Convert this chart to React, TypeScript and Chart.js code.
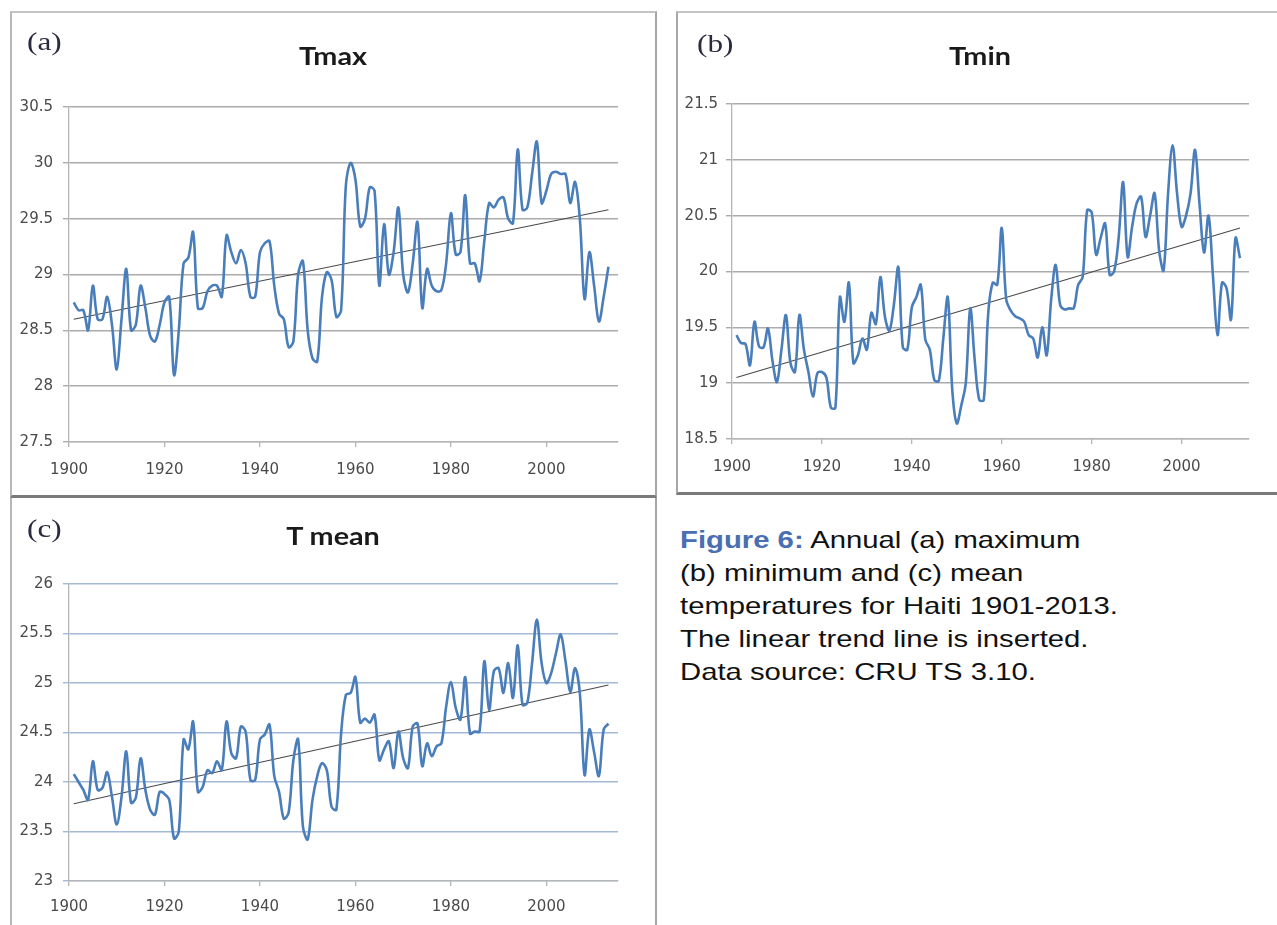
import React, { useEffect, useRef } from "react";
import { Chart, registerables } from "chart.js";

Chart.register(...registerables);

// ---------- data ----------
const FIRST_YEAR = 1901;

const tmaxValues = [
  28.75, 28.68, 28.68, 28.5, 28.9, 28.6, 28.6, 28.8, 28.55, 28.15,
  28.6, 29.05, 28.5, 28.55, 28.9, 28.7, 28.45, 28.4, 28.55, 28.75,
  28.8, 28.1, 28.5, 29.1, 29.15, 29.38, 28.7, 28.7, 28.85, 28.9,
  28.9, 28.8, 29.35, 29.2, 29.1, 29.22, 29.1, 28.8, 28.8, 29.2,
  29.28, 29.3, 28.9, 28.65, 28.6, 28.35, 28.4, 29.0, 29.12, 28.5,
  28.25, 28.22, 28.8, 29.02, 28.95, 28.62, 28.68, 29.8, 30.0, 29.85,
  29.43, 29.5, 29.78, 29.75, 28.9, 29.45, 29.0, 29.2, 29.6, 29.0,
  28.84, 29.1, 29.47, 28.7, 29.05, 28.9, 28.85, 28.86, 29.1, 29.55,
  29.18, 29.2, 29.71, 29.1, 29.1, 28.94, 29.3, 29.64, 29.6, 29.67,
  29.69, 29.5, 29.46, 30.12, 29.58, 29.6, 29.9, 30.19, 29.64, 29.75,
  29.9, 29.92, 29.9, 29.9, 29.64, 29.83, 29.5, 28.78, 29.2, 28.9,
  28.58, 28.8, 29.07,
];

const tminValues = [
  19.43, 19.36, 19.35, 19.16, 19.55, 19.33, 19.32, 19.49, 19.2, 19.01,
  19.3, 19.61, 19.18, 19.1, 19.61, 19.3, 19.1, 18.88, 19.09, 19.1,
  19.05, 18.78, 18.78, 19.77, 19.55, 19.9, 19.18, 19.25, 19.4, 19.3,
  19.63, 19.53, 19.95, 19.6, 19.47, 19.7, 20.04, 19.32, 19.3, 19.68,
  19.77, 19.88, 19.39, 19.3, 19.03, 19.02, 19.4, 19.77, 18.94, 18.64,
  18.8, 19.0, 19.67, 19.2, 18.85, 18.85, 19.63, 19.9, 19.88, 20.39,
  19.75, 19.65, 19.6, 19.58, 19.55, 19.43, 19.4, 19.23, 19.5, 19.25,
  19.75, 20.06, 19.7, 19.66, 19.67, 19.67, 19.88, 19.95, 20.55, 20.53,
  20.15, 20.3, 20.43, 19.97, 20.0, 20.3, 20.8, 20.13, 20.4, 20.61,
  20.67, 20.31, 20.5, 20.7, 20.19, 20.01, 20.7, 21.13, 20.7, 20.4,
  20.5, 20.7, 21.09, 20.6, 20.17, 20.5, 19.95, 19.43, 19.9, 19.85,
  19.57, 20.3, 20.12,
];

const tmeanValues = [
  24.08, 24.0, 23.92, 23.82, 24.21, 23.92, 23.94, 24.1, 23.85, 23.57,
  23.85, 24.31, 23.79, 23.84, 24.24, 23.92, 23.72, 23.67, 23.9, 23.88,
  23.82, 23.43, 23.5, 24.43, 24.33, 24.61, 23.9, 23.95, 24.12, 24.09,
  24.21, 24.12, 24.61, 24.29, 24.24, 24.56, 24.51, 24.02, 24.02, 24.43,
  24.48, 24.58, 24.06, 23.9, 23.63, 23.69, 24.22, 24.43, 23.55, 23.42,
  23.82, 24.06, 24.19, 24.12, 23.75, 23.72, 24.49, 24.88, 24.9, 25.06,
  24.6, 24.64, 24.6, 24.68, 24.22, 24.33, 24.41, 24.14, 24.51, 24.24,
  24.14, 24.56, 24.59, 24.16, 24.39, 24.26, 24.36, 24.39, 24.76, 25.01,
  24.75, 24.63, 25.06, 24.49, 24.51, 24.51, 25.22, 24.73, 25.12, 25.15,
  24.9, 25.2, 24.85, 25.38, 24.78, 24.8, 25.2, 25.64, 25.2, 25.0,
  25.1, 25.3, 25.49, 25.22, 24.91, 25.15, 24.9, 24.07, 24.53, 24.3,
  24.06, 24.53, 24.59,
];

// linear trend values at first and last year
const tmaxTrend = [28.6, 29.58];
const tminTrend = [19.05, 20.39];
const tmeanTrend = [23.78, 24.98];

const xTickValues = [1900, 1920, 1940, 1960, 1980, 2000];
const xRange = [1900, 2015];
const tmaxYTicks = [27.5, 28, 28.5, 29, 29.5, 30, 30.5];
const tminYTicks = [18.5, 19, 19.5, 20, 20.5, 21, 21.5];
const tmeanYTicks = [23, 23.5, 24, 24.5, 25, 25.5, 26];

// ---------- chart ----------
type ChartProps = {
  values: number[];
  trend: number[];
  yTicks: number[];
  width: number;
  height: number;
  padTop: number;
  padRight: number;
  yAxisW: number;
  xAxisH: number;
  gridColor: string;
  yLabelPad: number;
  xLabelPad: number;
};

function TempChart(p: ChartProps) {
  const ref = useRef<HTMLCanvasElement>(null);
  useEffect(() => {
    const canvas = ref.current;
    if (!canvas) return;
    const lastYear = FIRST_YEAR + p.values.length - 1;
    const axisColor = "#b5b5b5";
    const tickFont = { family: "DejaVu Sans", size: 15 };
    const chart = new Chart(canvas, {
      type: "line",
      data: {
        datasets: [
          {
            data: p.values.map((v, i) => ({ x: FIRST_YEAR + i, y: v })),
            borderColor: "#4a7ebb",
            borderWidth: 2.6,
            pointRadius: 0,
            tension: 0.35,
            fill: false,
          },
          {
            data: [
              { x: FIRST_YEAR, y: p.trend[0] },
              { x: lastYear, y: p.trend[1] },
            ],
            borderColor: "#4a4a4a",
            borderWidth: 1.1,
            pointRadius: 0,
            tension: 0,
            fill: false,
          },
        ],
      },
      options: {
        animation: false,
        responsive: false,
        maintainAspectRatio: false,
        devicePixelRatio: 1,
        layout: { padding: { top: p.padTop, right: p.padRight, left: 0, bottom: 0 } },
        plugins: {
          legend: { display: false },
          tooltip: { enabled: false },
          title: { display: false },
        },
        scales: {
          x: {
            type: "linear",
            min: xRange[0],
            max: xRange[1],
            afterFit: (s: any) => {
              s.height = p.xAxisH;
            },
            afterBuildTicks: (s: any) => {
              s.ticks = xTickValues.map((v) => ({ value: v }));
            },
            ticks: {
              callback: (v: any) => String(v),
              padding: p.xLabelPad,
              font: tickFont,
              color: "#4a4a4a",
              maxRotation: 0,
              autoSkip: false,
              includeBounds: false,
            },
            grid: {
              drawOnChartArea: false,
              drawTicks: true,
              tickLength: 5,
              color: axisColor,
              lineWidth: 1.3,
            },
            border: { display: true, color: axisColor, width: 1.3 },
          },
          y: {
            type: "linear",
            min: p.yTicks[0],
            max: p.yTicks[p.yTicks.length - 1],
            afterFit: (s: any) => {
              s.width = p.yAxisW;
            },
            afterBuildTicks: (s: any) => {
              s.ticks = p.yTicks.map((v) => ({ value: v }));
            },
            ticks: {
              callback: (v: any) => String(v),
              padding: p.yLabelPad,
              font: tickFont,
              color: "#4a4a4a",
              autoSkip: false,
              includeBounds: false,
            },
            grid: {
              color: p.gridColor,
              lineWidth: 1.4,
              drawTicks: true,
              tickLength: 6,
            },
            border: { display: true, color: axisColor, width: 1.3 },
          },
        },
      },
    } as any);
    return () => chart.destroy();
  }, []);
  return (
    <canvas
      ref={ref}
      width={p.width}
      height={p.height}
      style={{ display: "block", width: p.width, height: p.height }}
    />
  );
}

// ---------- layout ----------
const titleStyle = (cx: number, top: number): React.CSSProperties => ({
  position: "absolute",
  left: cx,
  top,
  fontFamily: "Lato, sans-serif",
  fontWeight: 700,
  fontSize: 25,
  lineHeight: "25px",
  color: "#1a1a1a",
  whiteSpace: "nowrap",
  transform: "translateX(-50%) scaleX(1.15)",
});

const tagStyle = (left: number, top: number): React.CSSProperties => ({
  position: "absolute",
  left,
  top,
  fontFamily: '"Liberation Serif", serif',
  fontSize: 26,
  lineHeight: "26px",
  color: "#2b2b3f",
  whiteSpace: "nowrap",
  transform: "scaleX(1.2)",
  transformOrigin: "left top",
});

export default function App() {
  return (
    <div
      style={{
        position: "absolute",
        left: 0,
        top: 0,
        width: 1277,
        height: 925,
        overflow: "hidden",
        background: "#ffffff",
      }}
    >
      {/* panel (a) */}
      <div
        style={{
          position: "absolute",
          left: 10,
          top: 11,
          width: 647,
          height: 487,
          boxSizing: "border-box",
          borderTop: "2px solid #c4c4c4",
          borderLeft: "2px solid #b8b8b8",
          borderRight: "2px solid #a6a6a6",
          borderBottom: "3px solid #7a7a7a",
        }}
      >
        <TempChart
          values={tmaxValues}
          trend={tmaxTrend}
          yTicks={tmaxYTicks}
          width={643}
          height={482}
          padTop={94}
          padRight={37}
          yAxisW={57}
          xAxisH={53}
          gridColor="#ababab"
          yLabelPad={10}
          xLabelPad={14}
        />
      </div>

      {/* panel (b) */}
      <div
        style={{
          position: "absolute",
          left: 676,
          top: 11,
          width: 620,
          height: 484,
          boxSizing: "border-box",
          borderTop: "2px solid #c4c4c4",
          borderLeft: "2px solid #a8a8a8",
          borderBottom: "3px solid #7a7a7a",
        }}
      >
        <TempChart
          values={tminValues}
          trend={tminTrend}
          yTicks={tminYTicks}
          width={599}
          height={479}
          padTop={91}
          padRight={28}
          yAxisW={54}
          xAxisH={53}
          gridColor="#ababab"
          yLabelPad={8}
          xLabelPad={14}
        />
      </div>

      {/* panel (c) */}
      <div
        style={{
          position: "absolute",
          left: 10,
          top: 498,
          width: 647,
          height: 440,
          boxSizing: "border-box",
          borderLeft: "2px solid #b8b8b8",
          borderRight: "2px solid #a6a6a6",
        }}
      >
        <TempChart
          values={tmeanValues}
          trend={tmeanTrend}
          yTicks={tmeanYTicks}
          width={643}
          height={427}
          padTop={86}
          padRight={37}
          yAxisW={57}
          xAxisH={44}
          gridColor="#a3b9d8"
          yLabelPad={10}
          xLabelPad={12}
        />
      </div>

      {/* titles and tags */}
      <div style={tagStyle(27, 29)}>(a)</div>
      <div style={titleStyle(333, 43)}>Tmax</div>
      <div style={tagStyle(697, 31)}>(b)</div>
      <div style={titleStyle(980, 43)}>Tmin</div>
      <div style={tagStyle(27, 516)}>(c)</div>
      <div style={titleStyle(333, 523)}>T mean</div>

      {/* caption */}
      <div
        style={{
          position: "absolute",
          left: 680,
          top: 523,
          fontFamily: '"Liberation Sans", Arial, sans-serif',
          fontSize: 24,
          lineHeight: "33px",
          color: "#111111",
          whiteSpace: "nowrap",
          transform: "scaleX(1.22)",
          transformOrigin: "left top",
        }}
      >
        <div>
          <span style={{ color: "#4a6eb4", fontWeight: 700 }}>Figure 6:</span> Annual (a) maximum
        </div>
        <div>(b) minimum and (c) mean</div>
        <div>temperatures for Haiti 1901-2013.</div>
        <div>The linear trend line is inserted.</div>
        <div>Data source: CRU TS 3.10.</div>
      </div>
    </div>
  );
}
